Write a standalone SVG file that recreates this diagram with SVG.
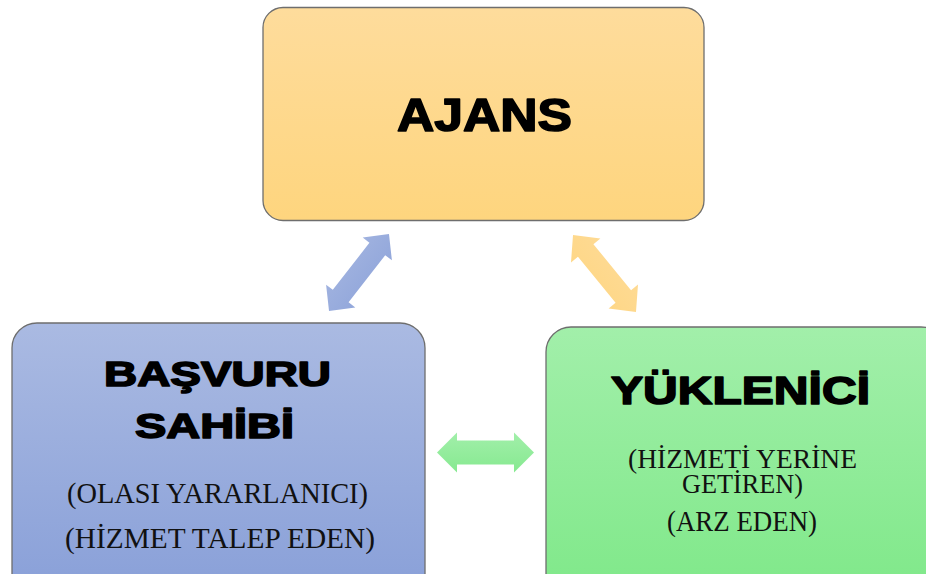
<svg xmlns="http://www.w3.org/2000/svg" width="926" height="574" viewBox="0 0 926 574">
<style>
.box{stroke:#6e6e6e;stroke-width:1.3}
.head{font-family:"Liberation Sans",Arial,sans-serif;font-weight:bold;fill:#000;stroke:#000;stroke-width:1.6;stroke-linejoin:round;text-anchor:middle}
.sub{font-family:"Liberation Serif","Times New Roman",serif;font-size:30px;fill:#111;text-anchor:middle}
.sub2{font-size:28px}
</style>
<defs>
<linearGradient id="gO" x1="0" y1="0" x2="0" y2="1"><stop offset="0" stop-color="#FEDC9C"/><stop offset="1" stop-color="#FED57E"/></linearGradient>
<linearGradient id="gB" x1="0" y1="0" x2="0" y2="1"><stop offset="0" stop-color="#AABAE2"/><stop offset="1" stop-color="#889FD8"/></linearGradient>
<linearGradient id="gG" x1="0" y1="0" x2="0" y2="1"><stop offset="0" stop-color="#A2EFAA"/><stop offset="1" stop-color="#7EE888"/></linearGradient>
<linearGradient id="gBa" gradientUnits="userSpaceOnUse" x1="0" y1="-50" x2="0" y2="50"><stop offset="0" stop-color="#AABAE2"/><stop offset="1" stop-color="#889FD8"/></linearGradient>
<linearGradient id="gOa" gradientUnits="userSpaceOnUse" x1="0" y1="-50" x2="0" y2="50"><stop offset="0" stop-color="#FEDC9C"/><stop offset="1" stop-color="#FED57E"/></linearGradient>
<linearGradient id="gGa" gradientUnits="userSpaceOnUse" x1="0" y1="432" x2="0" y2="473"><stop offset="0" stop-color="#A2EFAA"/><stop offset="1" stop-color="#86E990"/></linearGradient>
</defs>
<g id="connectors">
<g transform="translate(359,272.5) rotate(-52.1)">
<polygon fill="url(#gBa)" points="48.8,0 29.8,-18.5 29.8,-10 -29.8,-10 -29.8,-18.5 -48.8,0 -29.8,18.5 -29.8,10 29.8,10 29.8,18.5"/>
</g>
<g transform="translate(604.5,273.5) rotate(50.7)">
<polygon fill="url(#gOa)" points="49.7,0 29.7,-19 29.7,-10 -29.7,-10 -29.7,-19 -49.7,0 -29.7,19 -29.7,10 29.7,10 29.7,19"/>
</g>
<polygon fill="url(#gGa)" points="437,452.5 457,432.5 457,440.5 514,440.5 514,432.5 534,452.5 514,472.5 514,464.5 457,464.5 457,472.5"/>
</g>
<g id="ajans">
<rect class="box" x="263" y="7.5" width="441" height="213" rx="20" fill="url(#gO)"/>
<text class="head" x="484.5" y="130.5" font-size="46" textLength="175" lengthAdjust="spacingAndGlyphs">AJANS</text>
</g>
<g id="basvuru">
<rect class="box" x="12" y="323" width="413" height="280" rx="25" fill="url(#gB)"/>
<text class="head" x="217.5" y="385.5" font-size="35" textLength="227" lengthAdjust="spacingAndGlyphs">BAŞVURU</text>
<text class="head" x="214.5" y="437.5" font-size="35" textLength="159" lengthAdjust="spacingAndGlyphs">SAHİBİ</text>
<text class="sub" x="217.5" y="503" textLength="301" lengthAdjust="spacingAndGlyphs">(OLASI YARARLANICI)</text>
<text class="sub" x="220" y="548" textLength="310" lengthAdjust="spacingAndGlyphs">(HİZMET TALEP EDEN)</text>
</g>
<g id="yuklenici">
<rect class="box" x="546" y="327" width="400" height="280" rx="25" fill="url(#gG)"/>
<text class="head" x="740.5" y="403.5" font-size="39" textLength="259" lengthAdjust="spacingAndGlyphs">YÜKLENİCİ</text>
<text class="sub sub2" x="742.5" y="467.5" textLength="229" lengthAdjust="spacingAndGlyphs">(HİZMETİ YERİNE</text>
<text class="sub sub2" x="742.5" y="493" textLength="121" lengthAdjust="spacingAndGlyphs">GETİREN)</text>
<text class="sub" x="742" y="531" textLength="150" lengthAdjust="spacingAndGlyphs">(ARZ EDEN)</text>
</g>
</svg>
